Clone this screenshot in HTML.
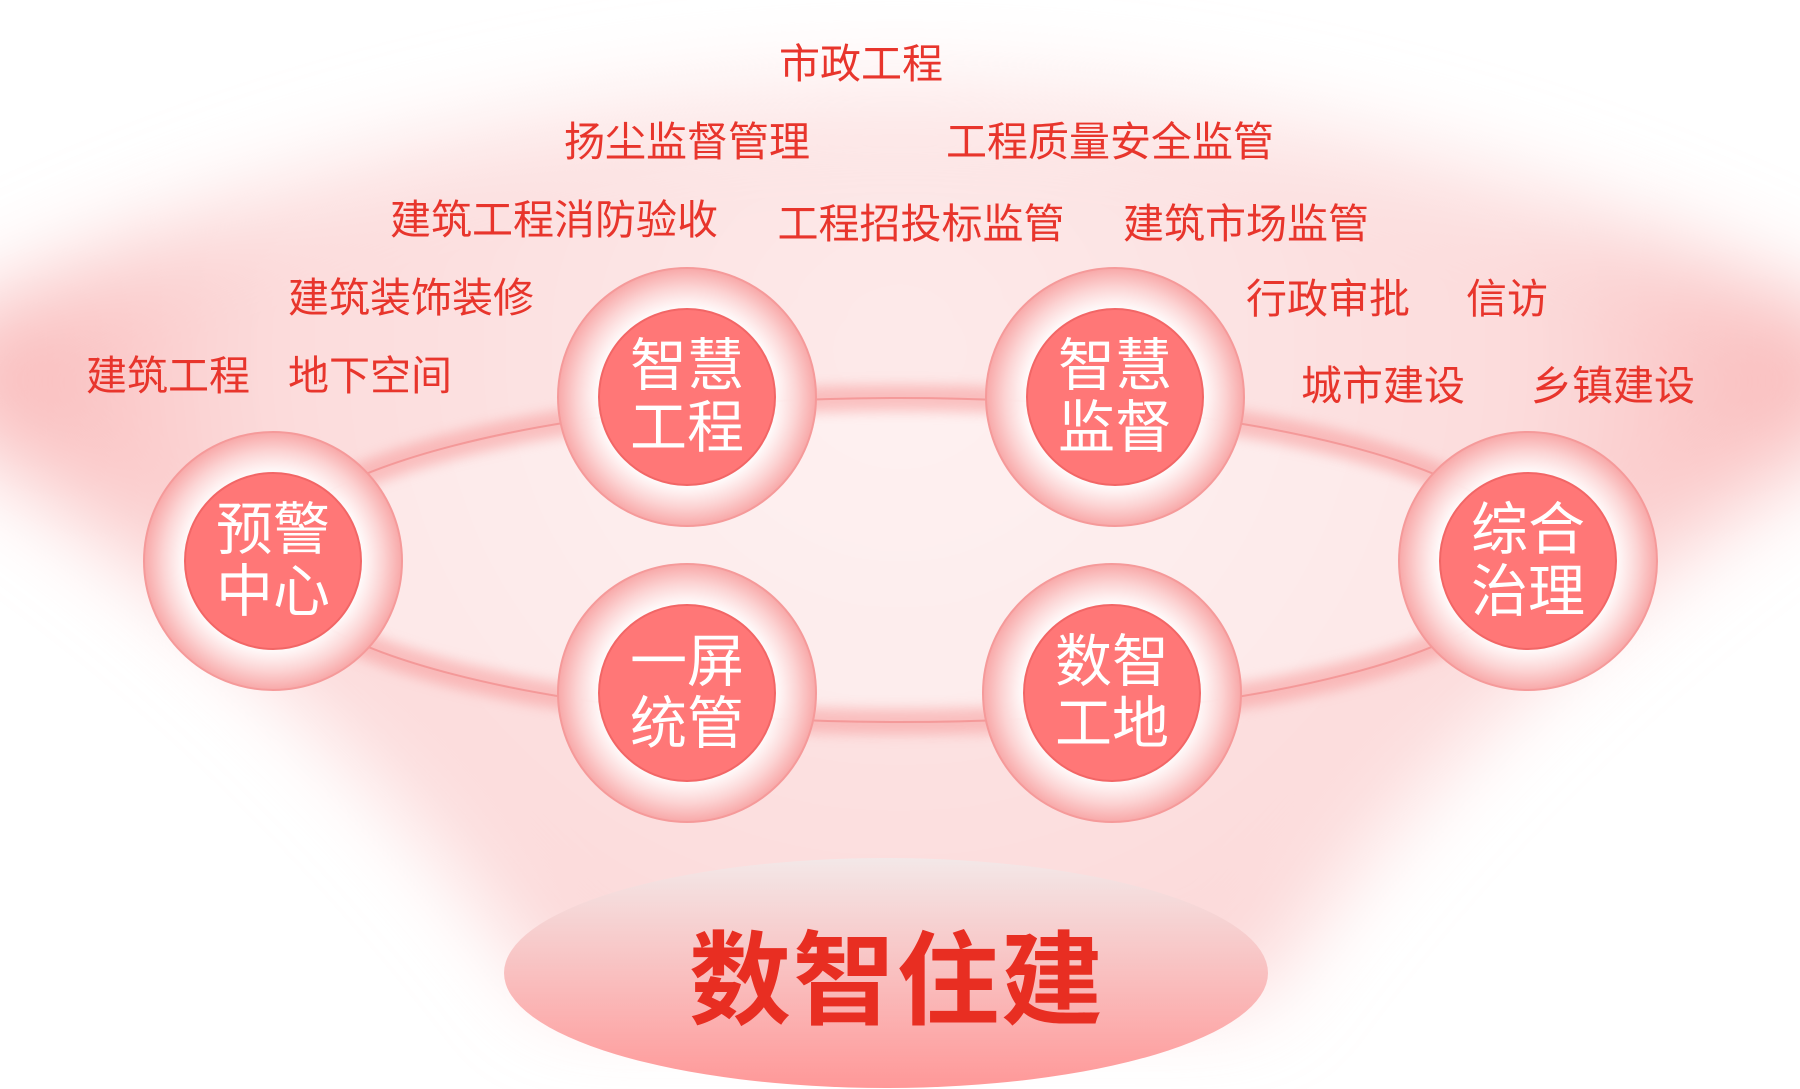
<!DOCTYPE html>
<html><head><meta charset="utf-8"><style>
html,body{margin:0;padding:0}
body{width:1800px;height:1089px;position:relative;overflow:hidden;background:#fff;font-family:"Liberation Sans","Noto Sans CJK SC",sans-serif}
.l{position:absolute;transform:translate(-50%,-50%);color:#e8352c;font-size:41px;white-space:nowrap}
.n{position:absolute;transform:translate(-50%,-50%);color:#fff;font-size:57px;line-height:62px;text-align:center;white-space:nowrap}
.t{position:absolute;left:897px;top:973px;transform:translate(-50%,-50%);color:#e82e22;font-size:102px;font-weight:bold;white-space:nowrap;letter-spacing:2px}
</style></head><body>
<svg width="1800" height="1089" style="position:absolute;left:0;top:0">
<defs>
<filter id="b1" x="-30%" y="-30%" width="160%" height="160%"><feGaussianBlur stdDeviation="45"/></filter>
<filter id="b2" x="-10%" y="-50%" width="120%" height="200%"><feGaussianBlur stdDeviation="6"/></filter>
<radialGradient id="ring" cx="0.5" cy="0.5" r="0.5"><stop offset="0.68" stop-color="#fff" stop-opacity="0.9"/><stop offset="0.85" stop-color="#fcd4d4"/><stop offset="1" stop-color="#f8a8a8"/></radialGradient>
<linearGradient id="base" x1="0" y1="0" x2="0" y2="1"><stop offset="0" stop-color="#f3e8e8"/><stop offset="1" stop-color="#ff9898"/></linearGradient>
<radialGradient id="bg" cx="900" cy="350" r="900" gradientUnits="userSpaceOnUse"><stop offset="0" stop-color="#fdeaea"/><stop offset="0.7" stop-color="#fcdcdc"/><stop offset="1" stop-color="#f9bcbc"/></radialGradient>
</defs>
<g filter="url(#b1)">
<path d="M-60 330 Q900 -160 1860 330 L1860 420 Q1500 650 1250 1000 L560 1000 Q300 650 -60 420Z" fill="url(#bg)"/>
</g>
<ellipse cx="900" cy="560" rx="630" ry="162" fill="#fff" opacity="0.35"/>
<ellipse cx="900" cy="560" rx="630" ry="162" fill="none" stroke="#f79a9a" stroke-width="26" opacity="0.55" filter="url(#b2)"/>
<ellipse cx="900" cy="560" rx="630" ry="162" fill="none" stroke="#f28a8a" stroke-width="2" opacity="0.7"/>
<ellipse cx="886" cy="973" rx="382" ry="115" fill="url(#base)"/>
<g>
<circle cx="687" cy="397" r="129" fill="url(#ring)" stroke="#f59a9a" stroke-width="2"/><circle cx="687" cy="397" r="88" fill="#ff7777" stroke="#f26666" stroke-width="2"/>
<circle cx="1115" cy="397" r="129" fill="url(#ring)" stroke="#f59a9a" stroke-width="2"/><circle cx="1115" cy="397" r="88" fill="#ff7777" stroke="#f26666" stroke-width="2"/>
<circle cx="273" cy="561" r="129" fill="url(#ring)" stroke="#f59a9a" stroke-width="2"/><circle cx="273" cy="561" r="88" fill="#ff7777" stroke="#f26666" stroke-width="2"/>
<circle cx="1528" cy="561" r="129" fill="url(#ring)" stroke="#f59a9a" stroke-width="2"/><circle cx="1528" cy="561" r="88" fill="#ff7777" stroke="#f26666" stroke-width="2"/>
<circle cx="687" cy="693" r="129" fill="url(#ring)" stroke="#f59a9a" stroke-width="2"/><circle cx="687" cy="693" r="88" fill="#ff7777" stroke="#f26666" stroke-width="2"/>
<circle cx="1112" cy="693" r="129" fill="url(#ring)" stroke="#f59a9a" stroke-width="2"/><circle cx="1112" cy="693" r="88" fill="#ff7777" stroke="#f26666" stroke-width="2"/>
</g>
</svg>
<div class="n" style="left:687px;top:397px">智慧<br>工程</div>
<div class="n" style="left:1115px;top:397px">智慧<br>监督</div>
<div class="n" style="left:273px;top:561px">预警<br>中心</div>
<div class="n" style="left:1528px;top:561px">综合<br>治理</div>
<div class="n" style="left:687px;top:693px">一屏<br>统管</div>
<div class="n" style="left:1112px;top:693px">数智<br>工地</div>
<div class="l" style="left:861px;top:60px">市政工程</div>
<div class="l" style="left:687px;top:138px">扬尘监督管理</div>
<div class="l" style="left:1110px;top:138px">工程质量安全监管</div>
<div class="l" style="left:554px;top:216px">建筑工程消防验收</div>
<div class="l" style="left:921px;top:220px">工程招投标监管</div>
<div class="l" style="left:1246px;top:220px">建筑市场监管</div>
<div class="l" style="left:411px;top:294px">建筑装饰装修</div>
<div class="l" style="left:1328px;top:295px">行政审批</div>
<div class="l" style="left:1507px;top:295px">信访</div>
<div class="l" style="left:168px;top:372px">建筑工程</div>
<div class="l" style="left:370px;top:372px">地下空间</div>
<div class="l" style="left:1383px;top:382px">城市建设</div>
<div class="l" style="left:1613px;top:382px">乡镇建设</div>
<div class="t">数智住建</div>
</body></html>
